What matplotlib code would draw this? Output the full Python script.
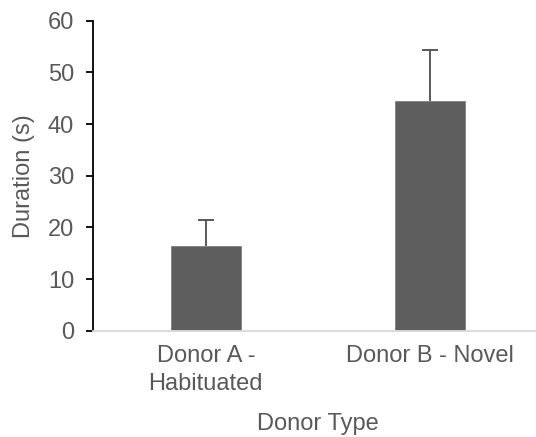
import numpy as np
import matplotlib.pyplot as plt

donors = ['Donor A -\nHabituated', 'Donor B - Novel']
duration = [16.45, 44.45]
err_up = [4.9, 9.9]

plt.rcParams['font.family'] = ['Liberation Sans', 'DejaVu Sans']
grey = '#595959'
fs = 17

fig = plt.figure(figsize=(5.36, 4.37), dpi=100)
ax = fig.add_axes([0.1744, 0.2432, 0.8381, 0.7094])

x = np.arange(len(donors))
mean = np.array(duration)
top = mean + np.array(err_up)

ax.bar(x, mean, width=0.3125, color='#5e5e5e', edgecolor='#7f7f7f', linewidth=0.6, zorder=2)
# plus-only error bars: stem and a cap at the upper end
ax.vlines(x, mean, top, color=grey, linewidth=1.4, zorder=3)
ax.plot(x, top, ls='none', marker='_', markersize=12, markeredgewidth=1.4,
        color=grey, zorder=3)

ax.set_xlim(-0.5, 1.5)
ax.set_ylim(0, 60)
ax.set_yticks(range(0, 61, 10))
ax.set_xticks(x)
ax.set_xticklabels(donors, fontsize=fs, color=grey, linespacing=1.35)

ax.tick_params(axis='x', length=0, pad=10)
ax.tick_params(axis='y', direction='out', length=5, width=1.3, color='black',
               labelsize=fs, labelcolor=grey, pad=9)

for s in ['top', 'right']:
    ax.spines[s].set_visible(False)
ax.spines['left'].set_color('black')
ax.spines['left'].set_linewidth(1.3)
ax.spines['bottom'].set_color('#d9d9d9')
ax.spines['bottom'].set_linewidth(1.3)

ax.set_xlabel('Donor Type', fontsize=fs, color=grey, labelpad=13)
ax.set_ylabel('Duration (s)', fontsize=fs, color=grey, labelpad=9)

fig.savefig('out.png', dpi=100)
